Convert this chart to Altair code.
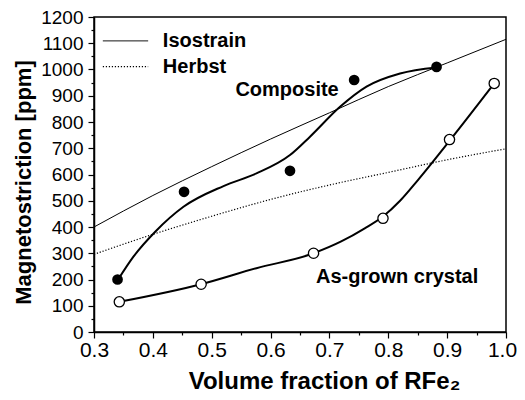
import altair as alt
import pandas as pd

# Model curves
model_x = [0.3, 0.4, 0.5, 0.6, 0.7, 0.8, 0.9, 1.0]
isostrain_y = [400, 520, 630, 735, 835, 935, 1025, 1115]
herbst_y = [296, 372, 441, 505, 560, 608, 656, 698]

# Guide-to-the-eye curves
comp_curve_x = [0.341, 0.367, 0.404, 0.452, 0.52, 0.576, 0.633, 0.667, 0.718, 0.763, 0.82, 0.882]
comp_curve_y = [200, 287, 382, 477, 556, 604, 674, 744, 858, 935, 985, 1008]
grown_curve_x = [0.343, 0.482, 0.576, 0.673, 0.72, 0.76, 0.791, 0.82, 0.85, 0.905, 0.98]
grown_curve_y = [115, 182, 243, 300, 345, 395, 440, 500, 578, 731, 947]

# Measured points
comp_x = [0.34, 0.453, 0.633, 0.742, 0.882]
comp_y = [200, 534, 614, 960, 1010]
grown_x = [0.343, 0.482, 0.673, 0.791, 0.904, 0.98]
grown_y = [115, 182, 300, 433, 733, 947]

# Axis ticks
x_ticks = [0.3, 0.35, 0.4, 0.45, 0.5, 0.55, 0.6, 0.65, 0.7, 0.75, 0.8, 0.85, 0.9, 0.95, 1.0]
y_ticks = [0, 50, 100, 150, 200, 250, 300, 350, 400, 450, 500, 550, 600, 650, 700, 750,
           800, 850, 900, 950, 1000, 1050, 1100, 1150, 1200]

# Legend / annotations
legend_names = ["Isostrain", "Herbst"]
legend_line_x = [0.315, 0.392]
legend_y = [1109, 1011]
legend_text_x = 0.417
labels_text = ["Composite", "As-grown crystal"]
labels_x = [0.628, 0.815]
labels_y = [922, 211]

FONT = "Liberation Sans"

xs = alt.Scale(domain=[0.3, 1.0], nice=False, zero=False)
ys = alt.Scale(domain=[0, 1200], nice=False)

x_major = "abs(round(datum.value*10) - datum.value*10) < 0.001"
y_major = "datum.value % 100 === 0"

x_axis = alt.Axis(
    values=x_ticks, grid=False, labelFlush=False, labelOverlap=False,
    labelExpr=f"{x_major} ? format(datum.value, '.1f') : ''",
    labelFontSize={"condition": {"test": x_major, "value": 21}, "value": 1},
    labelOffset={"condition": {"test": "datum.value > 0.99", "value": -4}, "value": 0},
    tickSize={"condition": {"test": x_major, "value": 6}, "value": 3},
    title="Volume fraction of RFe₂", titleFontSize=24, titleFontWeight="bold",
    titleX=230, titleY=56, titleAlign="center", titleBaseline="alphabetic",
    labelPadding=1, labelFont=FONT, titleFont=FONT,
    domainColor="black", domainWidth=1.5, tickColor="black", tickWidth=1.2,
    labelColor="black", titleColor="black",
)
y_axis = alt.Axis(
    values=y_ticks, grid=False, labelOverlap=False, labelFlush=False,
    labelExpr=f"{y_major} ? format(datum.value, 'd') : ''",
    labelFontSize={"condition": {"test": y_major, "value": 19}, "value": 1},
    tickSize={"condition": {"test": y_major, "value": 6}, "value": 3},
    title="Magnetostriction [ppm]", titleFontSize=22, titleFontWeight="bold",
    titleAngle=270, titleX=-64, titleY=165, titleAlign="center", titleBaseline="alphabetic",
    labelPadding=5, labelFont=FONT, titleFont=FONT,
    domainColor="black", domainWidth=1.5, tickColor="black", tickWidth=1.2,
    labelColor="black", titleColor="black",
)

X = alt.X("x:Q", scale=xs, axis=x_axis)


def Y(field):
    return alt.Y(field, scale=ys, axis=y_axis)


models = pd.DataFrame({"x": model_x, "iso": isostrain_y, "herbst": herbst_y})
comp_curve = pd.DataFrame({"x": comp_curve_x, "y": comp_curve_y})
grown_curve = pd.DataFrame({"x": grown_curve_x, "y": grown_curve_y})
comp_pts = pd.DataFrame({"x": comp_x, "y": comp_y})
grown_pts = pd.DataFrame({"x": grown_x, "y": grown_y})

leg_rows = []
for name, yy in zip(legend_names, legend_y):
    for xx in legend_line_x:
        leg_rows.append({"name": name, "x": xx, "y": yy})
leg_lines = pd.DataFrame(leg_rows)
leg_text = pd.DataFrame({"name": legend_names, "x": [legend_text_x] * 2, "y": legend_y})
ann = pd.DataFrame({"t": labels_text, "x": labels_x, "y": labels_y})

iso = alt.Chart(models).mark_line(color="black", strokeWidth=1, interpolate="monotone", clip=True).encode(
    x=X, y=Y("iso:Q"))
herb = alt.Chart(models).mark_line(color="black", strokeWidth=1.2, strokeDash=[1.2, 1.8],
                                   interpolate="monotone", clip=True).encode(x=X, y=Y("herbst:Q"))
cc = alt.Chart(comp_curve).mark_line(color="black", strokeWidth=2, interpolate="monotone").encode(
    x=X, y=Y("y:Q"))
gc = alt.Chart(grown_curve).mark_line(color="black", strokeWidth=2, interpolate="monotone").encode(
    x=X, y=Y("y:Q"))
cp = alt.Chart(comp_pts).mark_point(shape="circle", filled=True, color="black", size=115, opacity=1).encode(
    x=X, y=Y("y:Q"))
gp = alt.Chart(grown_pts).mark_point(shape="circle", filled=True, fill="white", stroke="black",
                                     strokeWidth=1.3, size=105, opacity=1).encode(x=X, y=Y("y:Q"))
ll = alt.Chart(leg_lines).mark_line(color="black").encode(
    x=X, y=Y("y:Q"), detail="name:N",
    strokeDash=alt.StrokeDash("name:N", scale=alt.Scale(domain=legend_names, range=[[1, 0], [1.2, 1.8]]), legend=None),
    strokeWidth=alt.StrokeWidth("name:N", scale=alt.Scale(domain=legend_names, range=[1, 1.2]), legend=None))
lt = alt.Chart(leg_text).mark_text(align="left", baseline="middle", fontSize=20, fontWeight="bold",
                                   font=FONT, color="black").encode(x=X, y=Y("y:Q"), text="name:N")
at = alt.Chart(ann).mark_text(align="center", baseline="middle", fontSize=20, fontWeight="bold",
                              font=FONT, color="black").encode(x=X, y=Y("y:Q"), text="t:N")

chart = alt.layer(iso, herb, cc, gc, cp, gp, ll, lt, at).properties(
    width=412, height=315,
    autosize=alt.AutoSizeParams(type="none"),
    padding={"left": 86, "top": 9, "right": 11, "bottom": 60},
    background="white",
).configure_view(stroke="black", strokeWidth=1.5).configure_axis(labelOverlap=False)

chart.save("out.html", embed_options={"renderer": "svg", "actions": False})
